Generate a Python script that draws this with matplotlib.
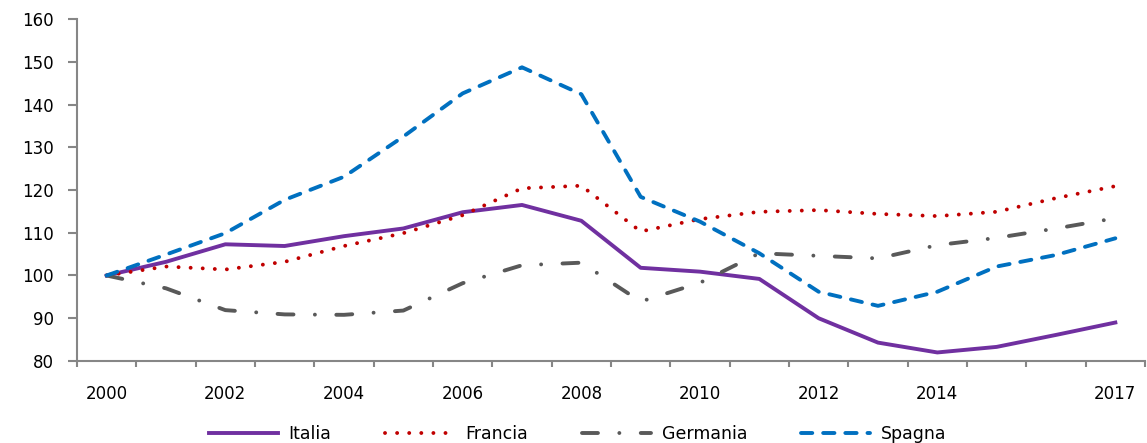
import matplotlib
matplotlib.use("Agg")
import matplotlib.pyplot as plt

years = list(range(2000, 2018))
label_years = [2000, 2002, 2004, 2006, 2008, 2010, 2012, 2014, 2017]

italia = [100, 103.2, 107.3, 106.9, 109.2, 111.0, 114.8, 116.5, 112.8,
          101.8, 100.9, 99.2, 90.0, 84.3, 82.0, 83.3, 86.1, 89.0]
francia = [100, 102.1, 101.4, 103.2, 106.9, 109.9, 114.1, 120.4, 121.0,
           110.3, 113.2, 114.9, 115.3, 114.4, 113.9, 114.9, 118.1, 120.9]
germania = [100, 97.0, 91.9, 90.9, 90.8, 91.8, 98.2, 102.4, 103.0,
            93.9, 98.3, 105.2, 104.6, 104.0, 107.1, 108.8, 111.0, 113.4]
spagna = [100, 104.9, 109.9, 117.7, 123.1, 132.5, 142.6, 148.7, 142.4,
          118.4, 112.6, 105.2, 96.2, 92.9, 96.2, 102.1, 104.8, 108.7]

W, H = 1147, 443
fig = plt.figure(figsize=(W / 100, H / 100), dpi=100)
ax = fig.add_axes([77 / W, 1 - 361 / H, (1145 - 77) / W, (361 - 19) / H])

x = list(range(len(years)))
lw = 2.8
ax.plot(x, italia, color="#7030A0", lw=lw, solid_joinstyle="round", label="Italia")
ax.plot(x, francia, color="#C00000", lw=lw, dashes=(0.01, 3.1),
        dash_capstyle="round", label="Francia")
ax.plot(x, germania, color="#595959", lw=lw, dashes=(4.1, 5.5, 0.01, 5.5),
        dash_capstyle="round", label="Germania")
ax.plot(x, spagna, color="#0070C0", lw=lw, dashes=(2.9, 2.8),
        dash_capstyle="round", label="Spagna")

ax.set_xlim(-0.5, len(years) - 0.5)
ax.set_ylim(80, 160)

axis_color = "#868686"
for side in ["top", "right"]:
    ax.spines[side].set_visible(False)
for side in ["left", "bottom"]:
    ax.spines[side].set_color(axis_color)
    ax.spines[side].set_linewidth(1.5)

ax.set_yticks(range(80, 161, 10))
ax.tick_params(axis="y", direction="out", length=6.5, width=1.5, color=axis_color,
               labelsize=12, pad=10)

# category boundaries as tick marks, labels at category centers
ax.set_xticks([i - 0.5 for i in range(len(years) + 1)])
ax.set_xticklabels([])
ax.tick_params(axis="x", which="major", direction="out", length=4, width=1.5,
               color=axis_color)
ax.set_xticks([years.index(y) for y in label_years], minor=True)
ax.set_xticklabels([str(y) for y in label_years], minor=True)
ax.tick_params(axis="x", which="minor", length=0, labelsize=12, pad=17)

fig.legend(loc="center", bbox_to_anchor=(0.5035, 0.02), ncol=4, frameon=False,
           fontsize=12.5, handlelength=4.0, handletextpad=0.6, columnspacing=3.1)

fig.savefig("out.png", dpi=100)
